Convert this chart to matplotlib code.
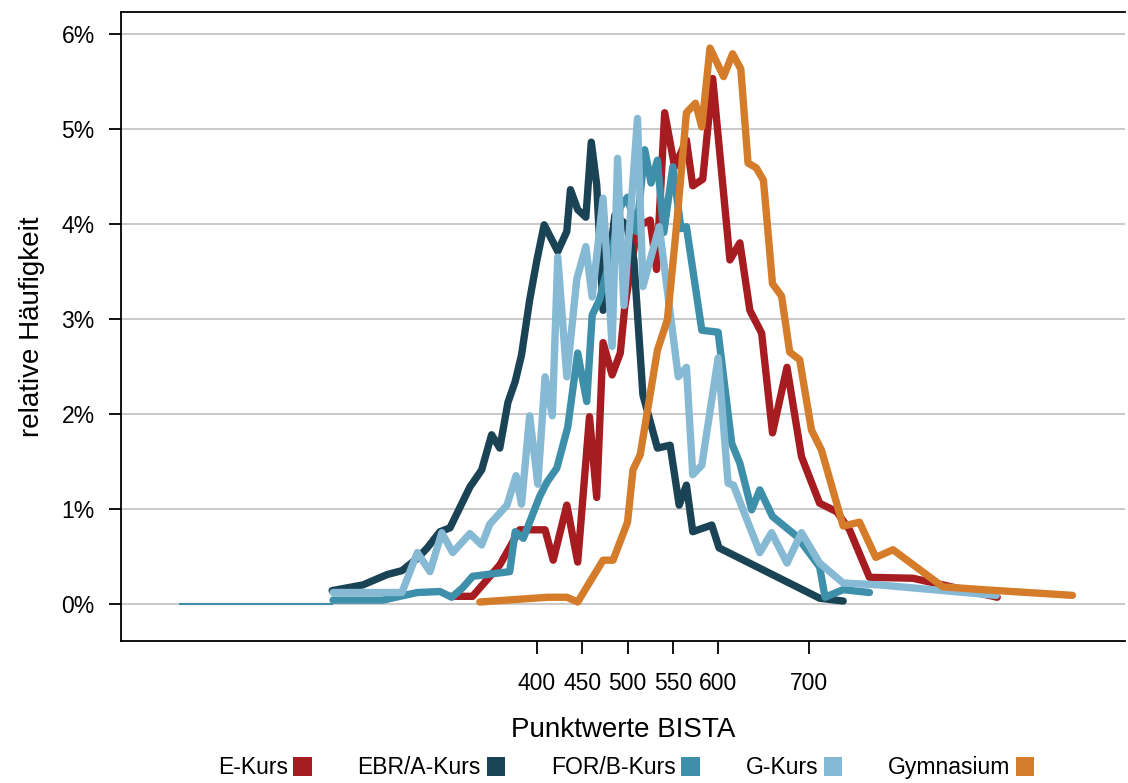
import matplotlib
matplotlib.use('Agg')
import matplotlib.pyplot as plt
from matplotlib.patches import Patch
from matplotlib.ticker import FuncFormatter

plt.rcParams['font.family'] = ['Liberation Sans', 'DejaVu Sans']

# Punktwerte / relative Haeufigkeit in %
e_x = [306, 329, 359, 381, 409, 418, 433, 445, 458, 466, 473, 483, 492, 497, 511, 525, 532, 541,
       552, 565, 572, 583, 594, 613, 624, 635, 648, 660, 676, 692, 712, 731, 745, 767, 815, 848, 908]
e_y = [0.08, 0.08, 0.41, 0.78, 0.78, 0.46, 1.04, 0.44, 1.97, 1.12, 2.75, 2.41, 2.64, 3.13, 3.97, 4.04,
       3.52, 5.17, 4.60, 4.88, 4.40, 4.47, 5.53, 3.62, 3.80, 3.09, 2.85, 1.80, 2.49, 1.55, 1.06, 0.97,
       0.78, 0.28, 0.27, 0.20, 0.07]

a_x = [174, 208, 235, 251, 268, 279, 293, 304, 326, 339, 350, 359, 368, 376, 383, 392, 400, 408,
       423, 433, 437, 445, 454, 460, 466, 473, 486, 499, 507, 517, 533, 547, 557, 565, 572, 593, 601,
       712, 738]
a_y = [0.14, 0.20, 0.31, 0.35, 0.48, 0.59, 0.76, 0.80, 1.23, 1.41, 1.78, 1.64, 2.12, 2.34, 2.62, 3.20,
       3.62, 3.99, 3.71, 3.92, 4.36, 4.15, 4.07, 4.86, 4.41, 3.09, 4.09, 3.99, 3.62, 2.20, 1.64, 1.67,
       1.04, 1.25, 0.76, 0.83, 0.59, 0.06, 0.03]

b_x = [175, 230, 268, 293, 306, 318, 329, 370, 376, 385, 403, 411, 422, 434, 445, 455, 461, 469,
       484, 492, 500, 510, 519, 526, 533, 540, 550, 559, 565, 582, 600, 615, 624, 637, 646, 660, 687,
       712, 718, 738, 767]
b_y = [0.04, 0.04, 0.12, 0.13, 0.07, 0.17, 0.29, 0.34, 0.76, 0.69, 1.13, 1.28, 1.43, 1.86, 2.64, 2.13,
       3.04, 3.20, 3.76, 4.18, 4.28, 3.92, 4.78, 4.43, 4.67, 3.91, 4.60, 3.95, 3.97, 2.88, 2.86, 1.69,
       1.48, 0.99, 1.20, 0.92, 0.71, 0.39, 0.07, 0.15, 0.12]

g_x = [175, 251, 268, 282, 295, 307, 326, 339, 348, 367, 377, 383, 392, 401, 409, 417, 423, 433,
       444, 454, 461, 473, 483, 489, 496, 511, 517, 535, 556, 565, 572, 582, 600, 611, 617, 632, 646,
       659, 676, 692, 712, 738, 778, 907]
g_y = [0.12, 0.12, 0.54, 0.34, 0.75, 0.54, 0.74, 0.62, 0.84, 1.04, 1.35, 1.05, 1.98, 1.26, 2.39, 1.98,
       3.65, 2.39, 3.42, 3.76, 3.23, 4.27, 2.71, 4.69, 3.14, 5.11, 3.34, 3.97, 2.39, 2.49, 1.36, 1.46,
       2.59, 1.27, 1.25, 0.88, 0.54, 0.75, 0.43, 0.75, 0.43, 0.22, 0.20, 0.09]

gy_x = [337, 412, 433, 445, 473, 484, 500, 506, 514, 533, 544, 554, 565, 575, 582, 591, 606, 616,
        625, 633, 642, 650, 660, 670, 679, 690, 703, 714, 738, 756, 774, 793, 848, 892, 991]
gy_y = [0.02, 0.07, 0.07, 0.02, 0.46, 0.46, 0.86, 1.41, 1.57, 2.67, 2.99, 3.97, 5.17, 5.27, 5.02, 5.85,
        5.55, 5.79, 5.63, 4.64, 4.59, 4.46, 3.37, 3.24, 2.65, 2.57, 1.83, 1.62, 0.82, 0.86, 0.49, 0.57,
        0.18, 0.15, 0.09]

# duenne Linie bei 0 vor dem Datenbeginn
null_x = [6, 174]
null_y = [0, 0]

labels = ['E-Kurs', 'EBR/A-Kurs', 'FOR/B-Kurs', 'G-Kurs', 'Gymnasium']
colors = ['#A61C21', '#1B4356', '#3E8FA9', '#86B9D3', '#D57C2A']
x_ticks = [400, 450, 500, 550, 600, 700]
y_ticks = [0, 1, 2, 3, 4, 5, 6]

fig = plt.figure(figsize=(11.28, 7.83), dpi=100)
ax = fig.add_axes([0.1073, 0.1814, 0.890, 0.8033])

ax.grid(axis='y', color='#C0C0C0', linewidth=1.2)
ax.set_axisbelow(True)

ax.plot(null_x, null_y, color=colors[2], linewidth=1.5)
series = [(e_x, e_y), (a_x, a_y), (b_x, b_y), (g_x, g_y), (gy_x, gy_y)]
for (xs, ys), c in zip(series, colors):
    ax.plot(xs, ys, color=c, linewidth=5.3, solid_capstyle='round', solid_joinstyle='round')

ax.set_xlim(-59, 1049)
ax.set_ylim(-0.39, 6.23)
ax.set_xticks(x_ticks)
ax.set_yticks(y_ticks)
ax.yaxis.set_major_formatter(FuncFormatter(lambda v, p: '%d%%' % v))
ax.tick_params(axis='both', direction='out', length=9, width=1.3, labelsize=16.5, colors='black')
ax.tick_params(axis='x', pad=13)
ax.tick_params(axis='y', pad=10)
for s in ax.spines.values():
    s.set_linewidth(1.3)
ax.spines['right'].set_visible(False)

ax.set_xlabel('Punktwerte BISTA', fontsize=20, labelpad=16)
ax.set_ylabel('relative Häufigkeit', fontsize=20, labelpad=12)

handles = [Patch(facecolor=c, edgecolor='none') for c in colors]
fig.legend(handles, labels, loc='center', bbox_to_anchor=(0.555, 0.0192), ncol=5, frameon=False,
           markerfirst=False, fontsize=16.5, handlelength=0.8, handleheight=0.95,
           handletextpad=0.25, columnspacing=2.0, borderaxespad=0)

fig.savefig('out.png', dpi=100)
